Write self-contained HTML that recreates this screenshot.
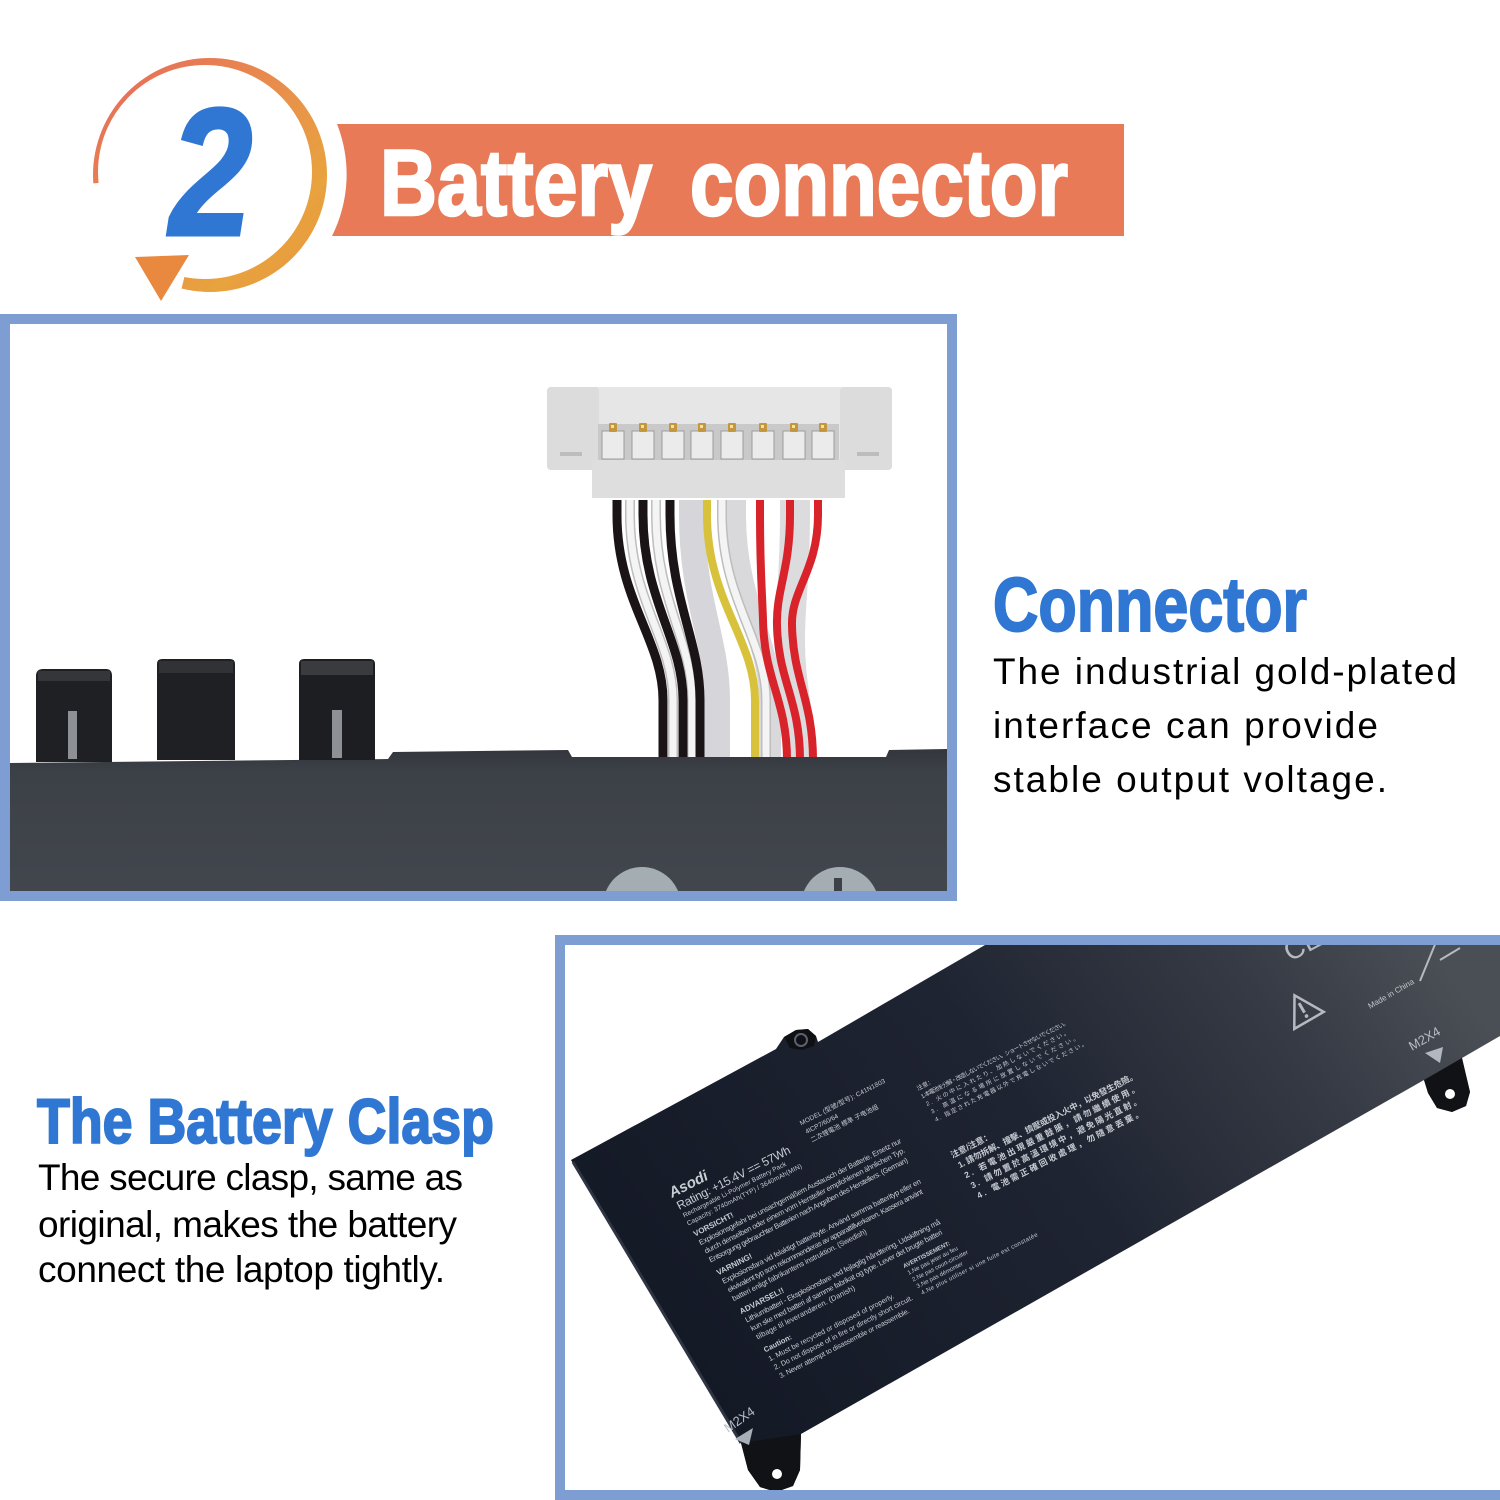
<!DOCTYPE html>
<html>
<head>
<meta charset="utf-8">
<style>
html,body{margin:0;padding:0;background:#ffffff;}
svg{display:block}
</style>
</head>
<body>
<svg width="1500" height="1500" viewBox="0 0 1500 1500" xmlns="http://www.w3.org/2000/svg">
<defs>
  <linearGradient id="ringGrad" gradientUnits="userSpaceOnUse" x1="95" y1="60" x2="330" y2="290">
    <stop offset="0" stop-color="#e6685c"/>
    <stop offset="0.5" stop-color="#e8924a"/>
    <stop offset="0.75" stop-color="#e8a23e"/>
    <stop offset="1" stop-color="#e8983e"/>
  </linearGradient>
  <clipPath id="ringClip">
    <path d="M210,175 L0,190 L0,0 L420,0 L420,420 L137,466 Z"/>
  </clipPath>
  <linearGradient id="body1" x1="0" y1="0" x2="0" y2="1">
    <stop offset="0" stop-color="#33363c"/>
    <stop offset="0.15" stop-color="#3c4047"/>
    <stop offset="1" stop-color="#42464d"/>
  </linearGradient>
  <linearGradient id="body2" gradientUnits="userSpaceOnUse" x1="700" y1="1380" x2="1380" y2="880">
    <stop offset="0" stop-color="#141926"/>
    <stop offset="0.5" stop-color="#1f2432"/>
    <stop offset="0.8" stop-color="#363a44"/>
    <stop offset="1" stop-color="#4a4e55"/>
  </linearGradient>
  <clipPath id="f1clip"><rect x="10" y="324" width="937" height="567"/></clipPath>
  <clipPath id="f2clip"><rect x="565" y="945" width="935" height="547"/></clipPath>
</defs>

<rect width="1500" height="1500" fill="#ffffff"/>

<!-- ===== Header ===== -->
<!-- banner -->
<path d="M337,124 L1124,124 L1124,236 L332,236 A137,137 0 0,0 337,124 Z" fill="#e87a57"/>
<text x="380" y="215" font-family="'Liberation Sans Narrow','Liberation Sans',sans-serif" font-weight="bold" font-size="94" fill="#ffffff" stroke="#ffffff" stroke-width="2.5" textLength="272" lengthAdjust="spacingAndGlyphs">Battery</text>
<text x="690" y="215" font-family="'Liberation Sans Narrow','Liberation Sans',sans-serif" font-weight="bold" font-size="94" fill="#ffffff" stroke="#ffffff" stroke-width="2.5" textLength="378" lengthAdjust="spacingAndGlyphs">connector</text>

<!-- circular arrow -->
<g clip-path="url(#ringClip)">
  <path fill-rule="evenodd" fill="url(#ringGrad)" d="M327,175 A117,117 0 1,0 93,175 A117,117 0 1,0 327,175 Z M312,172 A107,107 0 1,0 98,172 A107,107 0 1,0 312,172 Z"/>
</g>
<polygon points="135,257 189,255 161,301" fill="#e8893f"/>

<!-- digit 2 -->
<text transform="translate(211,235) scale(0.82,1)" x="0" y="0" text-anchor="middle" font-family="'Liberation Sans',sans-serif" font-weight="bold" font-style="italic" font-size="182" fill="#2f77d3" stroke="#2f77d3" stroke-width="3">2</text>

<!-- ===== Frame 1: connector photo ===== -->
<g clip-path="url(#f1clip)">
  <!-- wires -->
  <g fill="none" stroke-linecap="butt">
    <!-- silver sheath -->
    <path d="M692,500 L692,515 C692,600 717,640 717,700 L717,760" stroke="#d6d6da" stroke-width="26"/>
    <path d="M735,500 L735,515 C735,600 770,640 770,700 L770,760" stroke="#d9d9dc" stroke-width="22"/>
    <path d="M795,500 L795,515 C795,580 790,600 790,640 C790,690 800,710 800,760" stroke="#dcdcdf" stroke-width="30"/>
    <!-- white wires (outline + fill) -->
    <g stroke="#bdbdbd" stroke-width="10">
      <path d="M630,500 L630,515 C630,600 673,640 673,700 L673,760"/>
      <path d="M656,500 L656,515 C656,600 692,640 692,700 L692,760"/>
      <path d="M722,500 L722,515 C722,600 766,640 766,700 L766,760"/>
    </g>
    <g stroke="#f4f4f4" stroke-width="7">
      <path d="M630,500 L630,515 C630,600 673,640 673,700 L673,760"/>
      <path d="M656,500 L656,515 C656,600 692,640 692,700 L692,760"/>
      <path d="M722,500 L722,515 C722,600 766,640 766,700 L766,760"/>
    </g>
    <!-- black wires -->
    <g stroke="#1b1416" stroke-width="9">
      <path d="M617,500 L617,515 C617,600 663,640 663,700 L663,760"/>
      <path d="M643,500 L643,515 C643,600 683,640 683,700 L683,760"/>
      <path d="M670,500 L670,515 C670,600 700,640 700,700 L700,760"/>
    </g>
    <!-- yellow -->
    <path d="M707,500 L707,515 C707,600 755,640 755,700 L755,760" stroke="#d8c23c" stroke-width="8"/>
    <!-- reds -->
    <g stroke="#d8232b" stroke-width="8">
      <path d="M760,500 L760,515 C760,570 762,590 763,620 C764,680 787,700 787,760"/>
      <path d="M790,500 L790,515 C790,570 776,590 777,625 C778,680 800,700 800,760"/>
      <path d="M818,500 L818,515 C818,570 791,590 792,625 C793,680 813,700 813,760"/>
    </g>
  </g>

  <!-- connector housing -->
  <rect x="547" y="387" width="345" height="83" rx="4" fill="#e6e6e6"/>
  <rect x="547" y="387" width="52" height="83" rx="4" fill="#dcdcdc"/>
  <rect x="840" y="387" width="52" height="83" rx="4" fill="#dcdcdc"/>
  <rect x="560" y="452" width="22" height="4" fill="#bdbdbd"/>
  <rect x="857" y="452" width="22" height="4" fill="#bdbdbd"/>
  <rect x="592" y="460" width="253" height="38" fill="#dedede"/>
  <rect x="598" y="424" width="241" height="36" fill="#c9c9c9"/>
  <g fill="#ebebeb" stroke="#9c9c9c" stroke-width="1">
    <rect x="602" y="431" width="22" height="28"/>
    <rect x="632" y="431" width="22" height="28"/>
    <rect x="662" y="431" width="22" height="28"/>
    <rect x="691" y="431" width="22" height="28"/>
    <rect x="721" y="431" width="22" height="28"/>
    <rect x="752" y="431" width="22" height="28"/>
    <rect x="783" y="431" width="22" height="28"/>
    <rect x="812" y="431" width="22" height="28"/>
  </g>
  <g fill="#c5973c">
    <rect x="609" y="423" width="8" height="9" rx="1"/>
    <rect x="639" y="423" width="8" height="9" rx="1"/>
    <rect x="669" y="423" width="8" height="9" rx="1"/>
    <rect x="698" y="423" width="8" height="9" rx="1"/>
    <rect x="728" y="423" width="8" height="9" rx="1"/>
    <rect x="759" y="423" width="8" height="9" rx="1"/>
    <rect x="790" y="423" width="8" height="9" rx="1"/>
    <rect x="819" y="423" width="8" height="9" rx="1"/>
  </g>
  <g fill="#f3e1a8">
    <rect x="611" y="425" width="3" height="3"/>
    <rect x="641" y="425" width="3" height="3"/>
    <rect x="671" y="425" width="3" height="3"/>
    <rect x="700" y="425" width="3" height="3"/>
    <rect x="730" y="425" width="3" height="3"/>
    <rect x="761" y="425" width="3" height="3"/>
    <rect x="792" y="425" width="3" height="3"/>
    <rect x="821" y="425" width="3" height="3"/>
  </g>

  <!-- battery body -->
  <path d="M10,763 L388,759 L393,752 L568,750 L572,757 L886,757 L889,750 L950,749 L950,895 L10,895 Z" fill="url(#body1)"/>

  <!-- tabs -->
  <path d="M36,762 L36,676 Q36,669 43,669 L106,669 Q112,669 112,676 L112,762 Z" fill="#1f2024"/>
  <rect x="38" y="671" width="72" height="10" fill="#34363a"/>
  <rect x="68" y="711" width="9" height="48" fill="#8d9195"/>
  <path d="M157,760 L157,664 Q157,659 162,659 L230,659 Q235,659 235,664 L235,760 Z" fill="#1f2024"/>
  <rect x="159" y="661" width="74" height="12" fill="#303236"/>
  <path d="M299,760 L299,664 Q299,659 304,659 L370,659 Q375,659 375,664 L375,760 Z" fill="#1d1e22"/>
  <rect x="301" y="661" width="72" height="14" fill="#3a3b3f"/>
  <rect x="332" y="710" width="10" height="48" fill="#8d9195"/>

  <!-- bottom circles -->
  <circle cx="642" cy="906" r="39" fill="#a3adb2"/>
  <circle cx="840" cy="906" r="39" fill="#a3adb2"/>
  <rect x="834" y="878" width="8" height="14" fill="#3d4147"/>
</g>
<rect x="5" y="319" width="947" height="577" fill="none" stroke="#7e9ed3" stroke-width="10"/>

<!-- ===== Connector text ===== -->
<text x="993" y="631" font-family="'Liberation Sans Narrow','Liberation Sans',sans-serif" font-weight="bold" font-size="76" fill="#2f77d3" stroke="#2f77d3" stroke-width="2" textLength="314" lengthAdjust="spacingAndGlyphs">Connector</text>
<g font-family="'Liberation Sans',sans-serif" font-size="37" fill="#000000">
  <text x="993" y="684" textLength="464">The industrial gold-plated</text>
  <text x="993" y="738" textLength="385">interface can provide</text>
  <text x="993" y="792" textLength="394">stable output voltage.</text>
</g>

<!-- ===== Clasp text ===== -->
<text x="37" y="1143" font-family="'Liberation Sans Narrow','Liberation Sans',sans-serif" font-weight="bold" font-size="63" fill="#2f77d3" stroke="#2f77d3" stroke-width="2" textLength="457" lengthAdjust="spacingAndGlyphs">The Battery Clasp</text>
<g font-family="'Liberation Sans',sans-serif" font-size="37" fill="#000000">
  <text x="38" y="1190" textLength="425">The secure clasp, same as</text>
  <text x="38" y="1237" textLength="419">original, makes the battery</text>
  <text x="38" y="1282" textLength="407">connect the laptop tightly.</text>
</g>

<!-- ===== Frame 2: battery label photo ===== -->
<g clip-path="url(#f2clip)">
  <path d="M571,1160 L776,1049 L784,1037 L796,1030 L808,1029 L816,1036 L818,1042 L985,945 L1500,945 L1500,1036 L1462,1058 L1470,1092 L1466,1106 L1452,1112 L1437,1108 L1428,1093 L1424,1080 L801,1434 L800,1470 L793,1486 L776,1492 L760,1487 L748,1470 L741,1443 Z" fill="url(#body2)"/>
  <path d="M573,1162 L741,1443" stroke="#2e3442" stroke-width="3" fill="none"/>
  <!-- tabs -->
  <path d="M1462,1058 L1470,1092 L1466,1106 L1452,1112 L1437,1108 L1428,1093 L1424,1080 Z" fill="#101216"/>
  <path d="M801,1434 L800,1470 L793,1486 L776,1492 L760,1487 L748,1470 L741,1443 Z" fill="#101216"/>
  <circle cx="1450" cy="1094" r="5" fill="#ffffff"/>
  <circle cx="777" cy="1474" r="5" fill="#ffffff"/>
  <!-- top clasp -->
  <path d="M784,1037 L796,1030 L808,1029 L816,1036 L814,1046 L802,1050 L790,1048 Z" fill="#0e1014"/>
  <circle cx="801" cy="1040" r="6" fill="none" stroke="#5a6070" stroke-width="2"/>

  <!-- marks top right -->
  <g transform="translate(1303,1010) rotate(-30)" fill="none" stroke="#b6bac0" stroke-width="2.5">
    <polygon points="0,-17 17,12 -17,12"/>
  </g>
  <g transform="translate(1303,1010) rotate(-30)" fill="#b6bac0">
    <rect x="-1.5" y="-8" width="3" height="11"/>
    <circle cx="0" cy="7" r="1.8"/>
  </g>
  <text transform="translate(1370,1009) rotate(-30)" font-family="'Liberation Sans',sans-serif" font-size="8" fill="#c2c6cc">Made in China</text>
  <text transform="translate(1290,962) rotate(-28)" font-family="'Liberation Sans',sans-serif" font-size="28" fill="#b6bac0">CE</text>
  <path d="M1420,981 L1436,942" stroke="#b6bac0" stroke-width="2"/>
  <path d="M1440,960 L1460,948" stroke="#b6bac0" stroke-width="2"/>
  <text transform="translate(1412,1051) rotate(-30)" font-family="'Liberation Sans',sans-serif" font-size="13" fill="#b8bdc4">M2X4</text>
  <polygon points="1425,1053 1443,1047 1440,1063" fill="#b3b8bf"/>
  <text transform="translate(728,1433) rotate(-35)" font-family="'Liberation Sans',sans-serif" font-size="13" fill="#b8bdc4">M2X4</text>
  <polygon points="735,1439 753,1428 749,1445" fill="#a9afb6"/>

  <!-- label text -->
  <g transform="translate(672,1198) rotate(-27)" fill="#c8ccd3" font-family="'Liberation Sans','Noto Sans CJK SC',sans-serif">
    <text x="0" y="0" font-size="15" font-weight="bold" font-style="italic">Asodi</text>
    <text x="1" y="14" font-size="12" textLength="126">Rating: +15.4V == 57Wh</text>
    <text x="2" y="23" font-size="6.5" textLength="115">Rechargeable Li-Polymer Battery Pack</text>
    <text x="2" y="32" font-size="6.5" textLength="128">Capacity: 3740mAh(TYP) / 3640mAh(MIN)</text>
    <text x="3" y="45" font-size="8" font-weight="bold">VORSICHT!</text>
    <text x="4" y="55" font-size="7.5" textLength="226">Explosionsgefahr bei unsachgemäßem Austausch der Batterie. Ersetz nur</text>
    <text x="5" y="65" font-size="7.5" textLength="224">durch denselben oder einem vom Hersteller empfohlenen ähnlichen Typ.</text>
    <text x="5" y="75" font-size="7.5" textLength="222">Entsorgung gebrauchter Batterien nach Angaben des Herstellers. (German)</text>
    <text x="6" y="90" font-size="8" font-weight="bold">VARNING!</text>
    <text x="7" y="100" font-size="7.5" textLength="222">Explosionsfara vid felaktigt batteribyte. Använd samma batterityp eller en</text>
    <text x="8" y="110" font-size="7.5" textLength="218">ekvivalent typ som rekommenderas av apparattillverkaren. Kassera använt</text>
    <text x="8" y="120" font-size="7.5" textLength="150">batteri enligt fabrikantens instruktion. (Swedish)</text>
    <text x="9" y="135" font-size="8" font-weight="bold">ADVARSEL!!</text>
    <text x="10" y="145" font-size="7.5" textLength="218">Lithiumbatteri - Eksplosionsfare ved fejlagtig håndtering. Udskiftning må</text>
    <text x="11" y="155" font-size="7.5" textLength="214">kun ske med batteri af samme fabrikat og type. Lever det brugte batteri</text>
    <text x="12" y="165" font-size="7.5" textLength="110">tilbage til leverandøren. (Danish)</text>
    <text x="13" y="180" font-size="7.5" font-weight="bold">Caution:</text>
    <text x="13" y="190" font-size="7.2" textLength="140">1. Must be recycled or disposed of properly.</text>
    <text x="14" y="200" font-size="7.2" textLength="155">2. Do not dispose of in fire or directly short circuit.</text>
    <text x="15" y="210" font-size="7.2" textLength="145">3. Never attempt to disassemble or reassemble.</text>

    <text x="148" y="-6" font-size="6.5" textLength="95">MODEL (型號/型号): C41N1803</text>
    <text x="149" y="4" font-size="6.5">4ICP7/60/64</text>
    <text x="150" y="14" font-size="6.5">二次锂電池   標準 子电池组</text>

    <text x="268" y="16" font-size="6">注意：</text>
    <text x="268" y="25" font-size="6" textLength="165">1. 本電池を分解・改造しないでください。ショートさせないでください。</text>
    <text x="269" y="34" font-size="6" textLength="160">2. 火の中に入れたり、加熱しないでください。</text>
    <text x="270" y="43" font-size="6" textLength="165">3. 高温になる場所に放置しないでください。</text>
    <text x="270" y="52" font-size="6" textLength="170">4. 指定された充電器以外で充電しないでください。</text>

    <text x="268" y="92" font-size="8.5" font-weight="bold">注意/注意：</text>
    <text x="270" y="104" font-size="8.5" font-weight="bold" textLength="200">1. 請勿拆解、撞擊、擠壓或投入火中，以免發生危險。</text>
    <text x="271" y="116" font-size="8.5" font-weight="bold" textLength="195">2. 若電池出現嚴重鼓脹，請勿繼續使用。</text>
    <text x="272" y="128" font-size="8.5" font-weight="bold" textLength="190">3. 請勿置於高溫環境中，避免陽光直射。</text>
    <text x="273" y="140" font-size="8.5" font-weight="bold" textLength="185">4. 電池需正確回收處理，勿隨意丟棄。</text>

    <text x="175" y="168" font-size="6" font-weight="bold">AVERTISSEMENT:</text>
    <text x="176" y="176" font-size="6">1.Ne pas jeter au feu</text>
    <text x="177" y="184" font-size="6">2.Ne pas court-circuiter</text>
    <text x="178" y="192" font-size="6">3.Ne pas démonter</text>
    <text x="179" y="200" font-size="6" textLength="130">4.Ne plus utiliser si une fuite est constatée</text>
  </g>
</g>
<rect x="560" y="940" width="960" height="555" fill="none" stroke="#7e9ed3" stroke-width="10"/>
</svg>
</body>
</html>
